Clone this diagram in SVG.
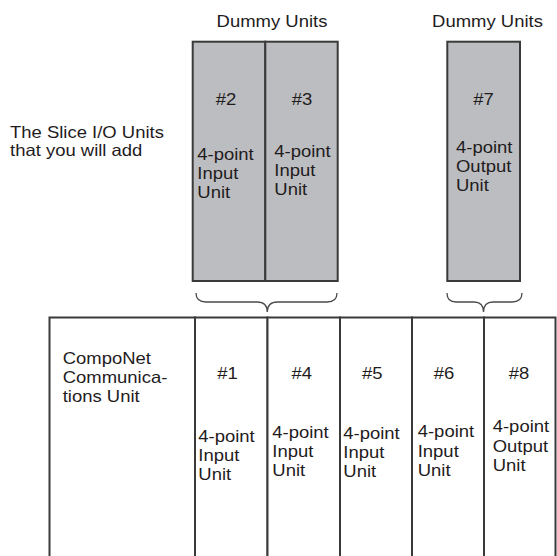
<svg xmlns="http://www.w3.org/2000/svg" width="557" height="556" viewBox="0 0 557 556">
<style>
  text { font-family: "Liberation Sans", Arial, sans-serif; font-size: 16.5px; fill: #1f1c1d; }
  .c { text-anchor: middle; }
  .dummy { fill: #bcbdc0; stroke: #3a3a3a; stroke-width: 2; }
  .unit { fill: #ffffff; stroke: #3a3a3a; stroke-width: 2; }
  .brace { fill: none; stroke: #4a4a4a; stroke-width: 1.3; }
</style>
<rect width="557" height="556" fill="#ffffff"/>

<g id="label-slice">
  <text transform="matrix(1.12 0 0 1 10 137.5)">The Slice I/O Units</text>
  <text transform="matrix(1.12 0 0 1 10 156)">that you will add</text>
</g>

<g id="label-dummy-1"><text class="c" transform="matrix(1.12 0 0 1 272 26.7)">Dummy Units</text></g>
<g id="label-dummy-2"><text class="c" transform="matrix(1.12 0 0 1 487.5 26.7)">Dummy Units</text></g>

<g id="unit-2">
  <rect class="dummy" x="192.7" y="41.7" width="72.6" height="239.3"/>
  <text class="c" transform="matrix(1.12 0 0 1 226 105)">#2</text>
  <text transform="matrix(1.12 0 0 1 197.3 159.5)">4-point</text>
  <text transform="matrix(1.12 0 0 1 197.3 178.5)">Input</text>
  <text transform="matrix(1.12 0 0 1 197.3 197.5)">Unit</text>
</g>
<g id="unit-3">
  <rect class="dummy" x="265.3" y="41.7" width="72.4" height="239.3"/>
  <text class="c" transform="matrix(1.12 0 0 1 302 105)">#3</text>
  <text transform="matrix(1.12 0 0 1 274.3 157)">4-point</text>
  <text transform="matrix(1.12 0 0 1 274.3 176)">Input</text>
  <text transform="matrix(1.12 0 0 1 274.3 195)">Unit</text>
</g>
<g id="unit-7">
  <rect class="dummy" x="447.3" y="41.7" width="72.7" height="239.3"/>
  <text class="c" transform="matrix(1.12 0 0 1 483.5 105)">#7</text>
  <text transform="matrix(1.12 0 0 1 456 152.5)">4-point</text>
  <text transform="matrix(1.12 0 0 1 456 171.5)">Output</text>
  <text transform="matrix(1.12 0 0 1 456 190.5)">Unit</text>
</g>

<g id="unit-comm">
  <rect class="unit" x="49.5" y="317.5" width="145.5" height="250"/>
  <text transform="matrix(1.12 0 0 1 62.7 363.5)">CompoNet</text>
  <text transform="matrix(1.12 0 0 1 62.7 382.5)">Communica-</text>
  <text transform="matrix(1.12 0 0 1 62.7 401.5)">tions Unit</text>
</g>
<g id="unit-1">
  <rect class="unit" x="195" y="317.5" width="72.5" height="250"/>
  <text class="c" transform="matrix(1.12 0 0 1 227.5 379.3)">#1</text>
  <text transform="matrix(1.12 0 0 1 198.3 441.7)">4-point</text>
  <text transform="matrix(1.12 0 0 1 198.3 460.7)">Input</text>
  <text transform="matrix(1.12 0 0 1 198.3 479.7)">Unit</text>
</g>
<g id="unit-4">
  <rect class="unit" x="267.5" y="317.5" width="72.5" height="250"/>
  <text class="c" transform="matrix(1.12 0 0 1 301.7 379.3)">#4</text>
  <text transform="matrix(1.12 0 0 1 272.3 438.3)">4-point</text>
  <text transform="matrix(1.12 0 0 1 272.3 457.3)">Input</text>
  <text transform="matrix(1.12 0 0 1 272.3 476.3)">Unit</text>
</g>
<g id="unit-5">
  <rect class="unit" x="340" y="317.5" width="72" height="250"/>
  <text class="c" transform="matrix(1.12 0 0 1 372.3 379.3)">#5</text>
  <text transform="matrix(1.12 0 0 1 343.3 439)">4-point</text>
  <text transform="matrix(1.12 0 0 1 343.3 458)">Input</text>
  <text transform="matrix(1.12 0 0 1 343.3 477)">Unit</text>
</g>
<g id="unit-6">
  <rect class="unit" x="412" y="317.5" width="72" height="250"/>
  <text class="c" transform="matrix(1.12 0 0 1 444 379.3)">#6</text>
  <text transform="matrix(1.12 0 0 1 417.7 437.3)">4-point</text>
  <text transform="matrix(1.12 0 0 1 417.7 456.5)">Input</text>
  <text transform="matrix(1.12 0 0 1 417.7 475.7)">Unit</text>
</g>
<g id="unit-8">
  <rect class="unit" x="484" y="317.5" width="71.5" height="250"/>
  <text class="c" transform="matrix(1.12 0 0 1 519 379.3)">#8</text>
  <text transform="matrix(1.12 0 0 1 492.7 432.3)">4-point</text>
  <text transform="matrix(1.12 0 0 1 492.7 451.5)">Output</text>
  <text transform="matrix(1.12 0 0 1 492.7 470.7)">Unit</text>
</g>

<g id="connectors">
  <path class="brace" d="M196,293 Q196,302 206,302 L257,302 Q267.3,302 267.3,312 Q267.3,302 277.5,302 L327,302 Q337,302 337,293"/>
  <path class="brace" d="M447,293 Q447,302 456,302 L474,302 Q483.5,302 483.5,312 Q483.5,302 493,302 L512,302 Q522,302 522,293"/>
</g>
</svg>
